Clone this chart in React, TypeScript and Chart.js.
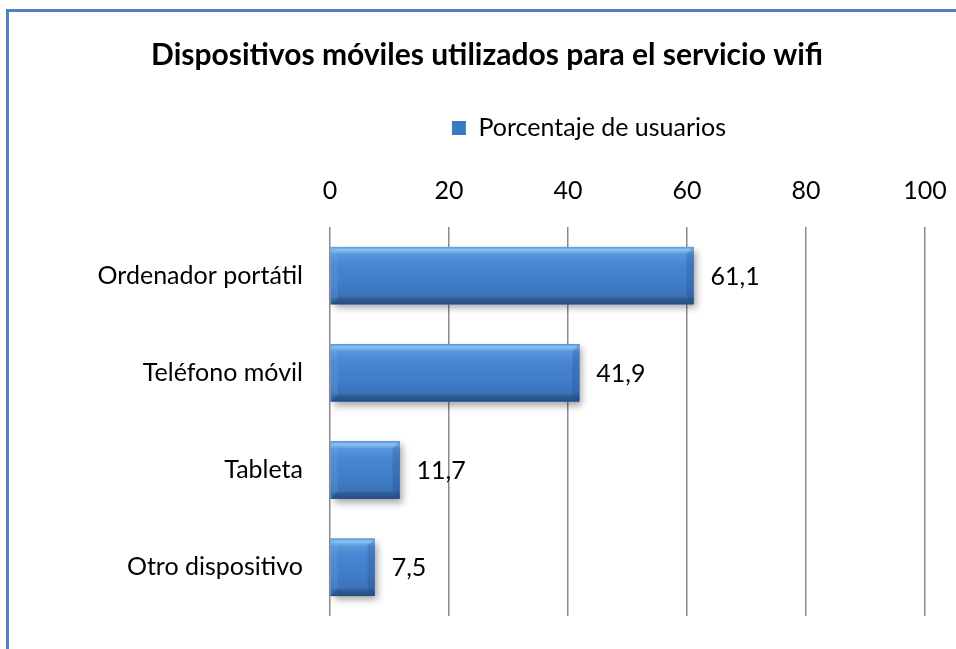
import React, { useEffect, useRef } from "react";
import { Chart, registerables } from "chart.js";

Chart.register(...registerables);

const TITLE = "Dispositivos móviles utilizados para el servicio wifi";
const SERIES_NAME = "Porcentaje de usuarios";
const categories = ["Ordenador portátil", "Teléfono móvil", "Tableta", "Otro dispositivo"];
const values = [61.1, 41.9, 11.7, 7.5];
const axisMin = 0;
const axisMax = 100;
const axisStep = 20;

const FONT = 'Lato, "Open Sans", sans-serif';

const framePlugin = {
  id: "frame",
  beforeDraw(chart: any) {
    const ctx = chart.ctx;
    ctx.save();
    ctx.fillStyle = "#ffffff";
    ctx.fillRect(0, 0, chart.width, chart.height);
    ctx.strokeStyle = "#4F81BD";
    ctx.lineWidth = 3;
    ctx.beginPath();
    ctx.moveTo(7.5, chart.height);
    ctx.lineTo(7.5, 10.5);
    ctx.lineTo(chart.width, 10.5);
    ctx.stroke();
    ctx.restore();
  },
};

const legendShiftPlugin = {
  id: "legendShift",
  afterLayout(chart: any) {
    const lg = chart.legend;
    if (lg) {
      lg.left += 102;
      lg.right += 102;
    }
  },
};

function barRect(el: any) {
  const p = el.getProps(["x", "y", "base", "height"], true);
  const left = Math.min(p.base, p.x);
  const right = Math.max(p.base, p.x);
  const top = p.y - p.height / 2;
  const bottom = p.y + p.height / 2;
  return { left, right, top, bottom };
}

const bevelPlugin = {
  id: "bevel",
  beforeDatasetsDraw(chart: any) {
    const ctx = chart.ctx;
    const meta = chart.getDatasetMeta(0);
    ctx.save();
    meta.data.forEach((el: any) => {
      const r = barRect(el);
      ctx.shadowColor = "rgba(0,0,0,0.35)";
      ctx.shadowBlur = 7;
      ctx.shadowOffsetX = 3;
      ctx.shadowOffsetY = 4;
      ctx.fillStyle = "#3C78C3";
      ctx.fillRect(r.left, r.top, r.right - r.left, r.bottom - r.top);
    });
    ctx.restore();
  },
  afterDatasetsDraw(chart: any) {
    const ctx = chart.ctx;
    const meta = chart.getDatasetMeta(0);
    ctx.save();
    meta.data.forEach((el: any) => {
      const { left, right, top, bottom } = barRect(el);
      const w = right - left;
      const h = bottom - top;
      const g = ctx.createLinearGradient(0, top, 0, bottom);
      g.addColorStop(0, "#5B98DE");
      g.addColorStop(0.05, "#8CC1F3");
      g.addColorStop(0.13, "#5896DC");
      g.addColorStop(0.3, "#4886D1");
      g.addColorStop(0.7, "#3F7BC5");
      g.addColorStop(0.86, "#3A72B8");
      g.addColorStop(0.9, "#2F5E99");
      g.addColorStop(1, "#274C7E");
      ctx.fillStyle = g;
      ctx.fillRect(left, top, w, h);
      const b = Math.min(7, w / 3);
      // right bevel
      ctx.fillStyle = "rgba(30,60,110,0.22)";
      ctx.beginPath();
      ctx.moveTo(right, top);
      ctx.lineTo(right - b, top + b);
      ctx.lineTo(right - b, bottom - b);
      ctx.lineTo(right, bottom);
      ctx.closePath();
      ctx.fill();
      // left bevel
      ctx.fillStyle = "rgba(120,170,230,0.22)";
      ctx.beginPath();
      ctx.moveTo(left, top);
      ctx.lineTo(left + b, top + b);
      ctx.lineTo(left + b, bottom - b);
      ctx.lineTo(left, bottom);
      ctx.closePath();
      ctx.fill();
    });
    // value labels
    ctx.fillStyle = "#000000";
    ctx.font = `25px ${FONT}`;
    ctx.textAlign = "left";
    ctx.textBaseline = "middle";
    meta.data.forEach((el: any, i: number) => {
      const { right, top, bottom } = barRect(el);
      const txt = values[i].toFixed(1).replace(".", ",");
      ctx.fillText(txt, right + 17, (top + bottom) / 2 + 1);
    });
    ctx.restore();
  },
};

export default function App() {
  const ref = useRef<HTMLCanvasElement | null>(null);
  useEffect(() => {
    if (!ref.current) return;
    const chart = new Chart(ref.current, {
      type: "bar",
      data: {
        labels: categories,
        datasets: [
          {
            label: SERIES_NAME,
            data: values,
            backgroundColor: "#3C78C3",
            borderWidth: 0,
            barPercentage: 0.59,
            categoryPercentage: 1,
          },
        ],
      },
      options: {
        indexAxis: "y",
        responsive: false,
        animation: false,
        devicePixelRatio: 1,
        layout: { padding: { left: 49, right: 31, top: 0, bottom: 33 } },
        plugins: {
          title: {
            display: true,
            text: TITLE,
            color: "#000000",
            font: { family: FONT, size: 30, weight: "bold" },
            padding: { top: 37, bottom: 32.5 },
          },
          legend: {
            display: true,
            position: "top",
            labels: {
              color: "#000000",
              font: { family: FONT, size: 25 },
              boxWidth: 14,
              boxHeight: 14,
              padding: 10,
            },
          },
          tooltip: { enabled: false },
        },
        scales: {
          x: {
            position: "top",
            min: axisMin,
            max: axisMax,
            ticks: {
              stepSize: axisStep,
              color: "#000000",
              font: { family: FONT, size: 25 },
              padding: 21,
            },
            grid: { color: "#8A8A8A", lineWidth: 1.5, drawTicks: false },
            border: { display: false },
            afterFit(scale: any) {
              scale.height = 76.5;
              scale.paddingLeft = 0;
              scale.paddingRight = 0;
            },
          },
          y: {
            ticks: {
              color: "#000000",
              font: { family: FONT, size: 25 },
              padding: 27,
            },
            grid: { display: false, drawTicks: false },
            border: { display: false },
            afterFit(scale: any) {
              scale.width = 281;
              scale.paddingTop = 0;
              scale.paddingBottom = 0;
            },
          },
        },
      },
      plugins: [framePlugin, legendShiftPlugin, bevelPlugin],
    });
    return () => chart.destroy();
  }, []);
  return (
    <div style={{ position: "fixed", left: 0, top: 0, width: 956, height: 649 }}>
      <canvas ref={ref} width={956} height={649} />
    </div>
  );
}
